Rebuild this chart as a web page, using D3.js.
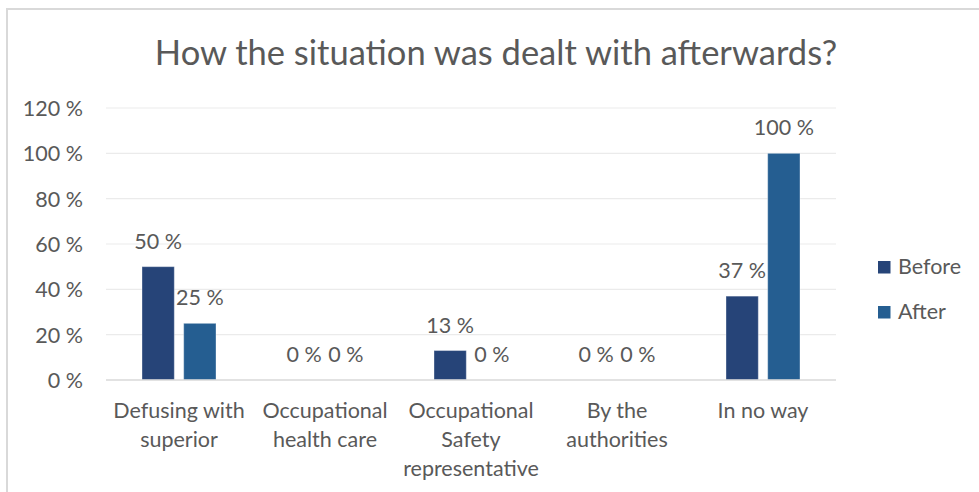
<!DOCTYPE html>
<html>
<head>
<meta charset="utf-8">
<script src="https://cdn.jsdelivr.net/npm/d3@7/dist/d3.min.js"></script>
<style>
  html, body { margin: 0; padding: 0; background: #fff; }
  svg { display: block; }
  text { font-family: Lato, "Open Sans", sans-serif; fill: #595959; }
</style>
</head>
<body>
<svg id="chart" width="979" height="492"></svg>
<script>
// Chart data
const title = "How the situation was dealt with afterwards?";
const categories = [
  ["Defusing with", "superior"],
  ["Occupational", "health care"],
  ["Occupational", "Safety", "representative"],
  ["By the", "authorities"],
  ["In no way"]
];
const seriesNames = ["Before", "After"];
const before = [0.50, 0.00, 0.13, 0.00, 0.37];
const after = [0.25, 0.00, 0.00, 0.00, 1.00];
const yTicks = [0, 0.2, 0.4, 0.6, 0.8, 1.0, 1.2];
const colors = ["#264478", "#255E91"];

const svg = d3.select("#chart");
const W = 979, H = 492;
const labelSize = "21.5px";

// Outer chart frame (only the top and left edges fall inside the view)
svg.append("path")
  .attr("d", `M7,${H} L7,9 L${W},9`)
  .attr("fill", "none")
  .attr("stroke", "#d9d9d9")
  .attr("stroke-width", 2);

const plot = { left: 106, right: 836, top: 108, bottom: 380 };

const catIdx = categories.map((_, i) => i);
const x = d3.scaleBand().domain(catIdx).range([plot.left, plot.right]).padding(0);
const xs = d3.scaleBand().domain(seriesNames).range([-37, 37]).paddingInner(0.225);
const y = d3.scaleLinear().domain([0, 1.2]).range([plot.bottom, plot.top]);

const fmt = v => `${Math.round(v * 100)} %`;

// Title
svg.append("text")
  .attr("x", 496)
  .attr("y", 65)
  .attr("text-anchor", "middle")
  .style("font-size", "34.5px")
  .text(title);

// Horizontal gridlines
svg.append("g")
  .selectAll("line")
  .data(yTicks.filter(t => t > 0))
  .join("line")
  .attr("x1", plot.left)
  .attr("x2", plot.right)
  .attr("y1", d => y(d))
  .attr("y2", d => y(d))
  .attr("stroke", "#ebebeb")
  .attr("stroke-width", 1.2);

// Y axis tick labels
const yAxis = d3.axisLeft(y).tickValues(yTicks).tickFormat(fmt).tickSize(0).tickPadding(0);
const yG = svg.append("g").attr("transform", `translate(83,0)`).call(yAxis);
yG.select(".domain").remove();
yG.selectAll("text")
  .style("font-size", labelSize)
  .style("font-family", "Lato, 'Open Sans', sans-serif")
  .attr("fill", "#595959")
  .attr("dy", "0.35em");

// Bars
const series = [before, after];
const barG = svg.append("g");
series.forEach((vals, si) => {
  barG.selectAll(`rect.s${si}`)
    .data(vals)
    .join("rect")
    .attr("class", `s${si}`)
    .attr("x", (d, i) => x(i) + x.bandwidth() / 2 + xs(seriesNames[si]))
    .attr("width", xs.bandwidth())
    .attr("y", d => y(d))
    .attr("height", d => y(0) - y(d))
    .attr("fill", colors[si])
    .attr("stroke", "#ffffff")
    .attr("stroke-opacity", 0.35)
    .attr("stroke-width", 1);
});

// Zero baseline
svg.append("line")
  .attr("x1", plot.left)
  .attr("x2", plot.right)
  .attr("y1", y(0))
  .attr("y2", y(0))
  .attr("stroke", "#d9d9d9")
  .attr("stroke-width", 1.6);

// Value labels above each bar
series.forEach((vals, si) => {
  svg.append("g")
    .selectAll("text")
    .data(vals)
    .join("text")
    .attr("x", (d, i) => x(i) + x.bandwidth() / 2 + xs(seriesNames[si]) + xs.bandwidth() / 2)
    .attr("y", d => y(d) - 18)
    .attr("text-anchor", "middle")
    .style("font-size", labelSize)
    .text(d => fmt(d));
});

// Category labels (multi-line)
const catG = svg.append("g");
categories.forEach((lines, i) => {
  const t = catG.append("text")
    .attr("text-anchor", "middle")
    .style("font-size", labelSize);
  lines.forEach((ln, j) => {
    t.append("tspan")
      .attr("x", x(i) + x.bandwidth() / 2)
      .attr("y", 418 + j * 29)
      .text(ln);
  });
});

// Legend
const legend = svg.append("g");
seriesNames.forEach((name, i) => {
  const ly = 261 + i * 45;
  legend.append("rect")
    .attr("x", 878)
    .attr("y", ly)
    .attr("width", 12.5)
    .attr("height", 12.5)
    .attr("fill", colors[i]);
  legend.append("text")
    .attr("x", 898)
    .attr("y", ly + 13)
    .style("font-size", labelSize)
    .text(name);
});
</script>
</body>
</html>
